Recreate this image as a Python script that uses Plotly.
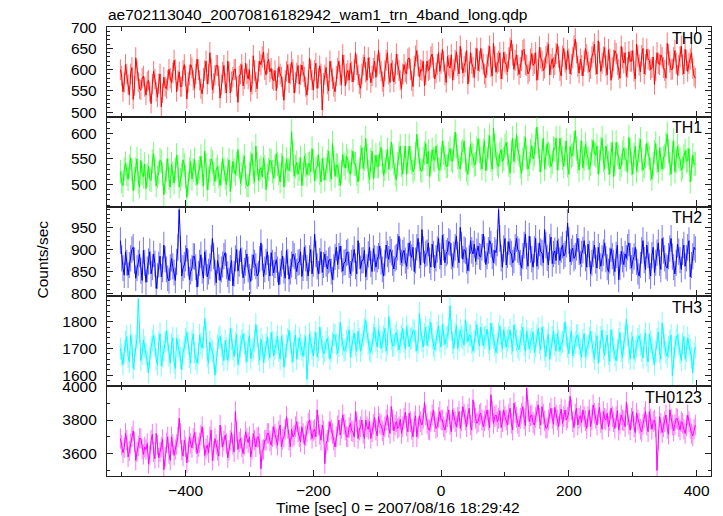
import numpy as np
import plotly.graph_objects as go
from plotly.subplots import make_subplots

# ---- data (2 s bins) ----
t_start = -502
t_step = 2
n_bins = 451
time = t_start + t_step * np.arange(n_bins)

th0 = [
600, 585, 548, 570, 612, 590, 565, 540, 590, 605, 530, 562, 628, 598, 571, 555, 552, 580, 585, 560,
540, 572, 575, 548, 520, 566, 596, 578, 548, 535, 567, 590, 512, 545, 582, 560, 555, 575, 601, 580,
570, 592, 622, 600, 548, 575, 595, 560, 560, 598, 612, 585, 531, 570, 588, 612, 604, 575, 556, 590,
625, 600, 575, 555, 543, 580, 598, 620, 566, 590, 640, 602, 552, 568, 587, 610, 610, 585, 533, 565,
594, 610, 568, 545, 620, 595, 545, 572, 582, 600, 601, 560, 523, 585, 590, 612, 562, 578, 615, 590,
578, 600, 548, 565, 633, 598, 571, 555, 596, 620, 612, 630, 642, 600, 588, 615, 625, 595, 603, 578,
574, 598, 551, 580, 607, 590, 583, 560, 528, 575, 596, 612, 569, 590, 618, 600, 545, 570, 592, 610,
566, 588, 611, 595, 583, 560, 540, 575, 627, 600, 575, 552, 598, 615, 556, 580, 609, 590, 505, 568,
588, 605, 566, 550, 620, 596, 579, 560, 548, 585, 603, 620, 587, 565, 635, 610, 562, 590, 598, 575,
615, 595, 571, 600, 640, 612, 588, 566, 556, 590, 611, 630, 594, 575, 628, 605, 569, 585, 603, 620,
582, 610, 646, 615, 597, 572, 560, 598, 622, 640, 589, 570, 615, 598, 571, 590, 637, 612, 598, 575,
555, 590, 612, 595, 590, 625, 628, 600, 574, 560, 608, 632, 645, 610, 583, 600, 598, 620, 562, 588,
620, 598, 601, 630, 637, 605, 578, 592, 612, 640, 596, 615, 648, 620, 588, 570, 631, 610, 604, 635,
575, 600, 622, 642, 610, 590, 655, 625, 592, 608, 618, 645, 566, 595, 640, 615, 605, 582, 627, 650,
598, 620, 650, 625, 613, 590, 581, 612, 632, 655, 607, 585, 662, 630, 594, 615, 620, 640, 578, 602,
641, 618, 612, 595, 628, 650, 670, 635, 601, 622, 635, 610, 589, 605, 622, 645, 648, 612, 610, 590,
596, 625, 638, 610, 615, 640, 575, 600, 653, 628, 620, 598, 604, 630, 640, 660, 588, 612, 626, 605,
612, 638, 660, 630, 598, 585, 632, 650, 618, 600, 645, 625, 590, 612, 628, 655, 672, 640, 608, 592,
625, 610, 585, 620, 650, 635, 617, 595, 603, 630, 641, 660, 612, 590, 668, 640, 596, 615, 630, 652,
609, 588, 647, 625, 575, 605, 622, 645, 638, 612, 600, 580, 655, 628, 616, 640, 584, 605, 642, 620,
620, 645, 596, 578, 660, 632, 611, 595, 633, 650, 590, 612, 648, 625, 622, 600, 605, 630, 565, 598,
640, 615, 612, 635, 628, 605, 598, 580, 662, 635, 618, 600, 601, 628, 645, 615, 587, 610, 630, 655,
612, 590, 648, 622, 596, 615, 625, 640, 603, 585, 580]

th1 = [
525, 505, 498, 530, 541, 520, 510, 535, 552, 528, 488, 512, 530, 550, 505, 495, 547, 522, 515, 540,
492, 518, 536, 510, 508, 545, 560, 530, 497, 515, 523, 548, 545, 520, 480, 505, 528, 550, 512, 495,
540, 522, 503, 530, 557, 535, 495, 510, 520, 548, 538, 515, 475, 502, 530, 545, 511, 528, 549, 520,
500, 525, 532, 555, 518, 498, 565, 538, 490, 512, 527, 550, 544, 520, 506, 530, 535, 515, 498, 522,
550, 530, 513, 500, 529, 548, 486, 515, 545, 528, 520, 540, 568, 535, 502, 520, 536, 555, 515, 498,
497, 522, 541, 560, 524, 505, 575, 540, 508, 528, 533, 515, 552, 535, 490, 518, 529, 548, 546, 525,
512, 535, 560, 540, 521, 505, 538, 555, 495, 520, 549, 530, 527, 548, 603, 560, 516, 535, 543, 520,
530, 552, 498, 520, 556, 538, 519, 540, 541, 525, 570, 545, 507, 530, 535, 558, 522, 505, 551, 530,
509, 530, 545, 565, 528, 510, 580, 550, 516, 538, 537, 520, 498, 525, 558, 540, 532, 555, 547, 525,
520, 545, 565, 540, 540, 520, 505, 530, 553, 572, 531, 550, 590, 555, 525, 510, 548, 565, 512, 535,
557, 535, 536, 560, 572, 545, 518, 530, 545, 568, 530, 550, 583, 555, 541, 520, 509, 540, 560, 575,
538, 520, 552, 575, 520, 545, 575, 552, 543, 525, 530, 560, 598, 565, 549, 528, 526, 550, 561, 580,
540, 565, 515, 540, 568, 550, 547, 575, 555, 530, 528, 550, 585, 562, 552, 535, 536, 560, 570, 548,
545, 570, 602, 575, 553, 535, 530, 562, 566, 585, 548, 528, 520, 550, 578, 560, 556, 538, 540, 570,
589, 565, 551, 530, 566, 585, 527, 550, 573, 595, 548, 530, 610, 575, 555, 540, 535, 560, 568, 545,
550, 575, 582, 560, 538, 522, 563, 590, 545, 565, 597, 570, 558, 535, 522, 550, 571, 592, 553, 530,
540, 565, 576, 550, 559, 585, 612, 575, 547, 525, 565, 590, 530, 552, 580, 560, 556, 535, 543, 570,
569, 590, 528, 550, 590, 568, 552, 535, 562, 585, 537, 520, 574, 555, 558, 580, 605, 570, 545, 528,
563, 585, 532, 550, 578, 560, 551, 530, 540, 565, 586, 560, 557, 575, 520, 545, 569, 590, 548, 530,
575, 555, 542, 520, 560, 582, 515, 540, 582, 560, 553, 530, 538, 562, 571, 550, 547, 525, 592, 565,
541, 520, 558, 575, 526, 545, 567, 588, 549, 528, 535, 555, 580, 560, 552, 530, 510, 540, 563, 580,
545, 525, 571, 550, 530, 552, 556, 578, 598, 565, 540, 520, 562, 585, 525, 545, 575, 555, 549, 528,
533, 555, 566, 545, 548, 570, 505, 530, 557, 540, 540]

th2 = [
920, 880, 858, 842, 895, 870, 842, 865, 880, 900, 905, 875, 835, 858, 870, 890, 852, 830, 898, 870,
826, 855, 873, 895, 845, 860, 890, 868, 812, 840, 866, 885, 838, 855, 910, 878, 855, 835, 829, 860,
880, 862, 848, 830, 872, 905, 990, 900, 840, 858, 865, 880, 903, 870, 832, 850, 858, 885, 884, 860,
815, 845, 870, 888, 852, 835, 895, 870, 838, 850, 862, 880, 925, 885, 848, 825, 875, 860, 830, 855,
866, 885, 893, 862, 844, 830, 858, 875, 818, 845, 880, 900, 851, 868, 902, 875, 836, 852, 870, 890,
855, 838, 828, 860, 888, 870, 862, 840, 845, 878, 915, 882, 839, 855, 872, 895, 858, 840, 893, 870,
847, 865, 877, 855, 820, 850, 868, 885, 852, 835, 898, 872, 833, 850, 866, 890, 885, 862, 850, 870,
872, 895, 839, 858, 905, 880, 858, 840, 880, 900, 845, 868, 935, 890, 862, 845, 874, 895, 848, 865,
890, 868, 856, 875, 878, 850, 832, 860, 883, 905, 866, 885, 908, 878, 851, 870, 872, 892, 895, 865,
845, 870, 880, 900, 862, 845, 920, 885, 857, 875, 876, 898, 838, 860, 889, 905, 867, 850, 902, 880,
860, 878, 885, 908, 873, 855, 840, 870, 910, 890, 878, 900, 894, 870, 856, 880, 883, 905, 930, 895,
870, 892, 898, 875, 862, 885, 915, 890, 882, 905, 850, 875, 905, 925, 887, 865, 945, 900, 868, 890,
893, 915, 875, 860, 912, 890, 858, 880, 900, 925, 885, 865, 932, 905, 870, 892, 896, 918, 915, 885,
862, 888, 905, 930, 888, 870, 950, 910, 878, 900, 897, 875, 852, 880, 920, 898, 890, 912, 873, 895,
908, 885, 883, 905, 935, 900, 866, 885, 898, 920, 912, 885, 870, 898, 893, 915, 990, 925, 880, 860,
902, 925, 865, 888, 918, 895, 890, 870, 876, 905, 925, 900, 895, 870, 858, 885, 910, 935, 885, 862,
930, 900, 878, 860, 900, 925, 862, 885, 915, 895, 892, 870, 945, 910, 881, 865, 905, 928, 868, 890,
897, 875, 920, 895, 875, 900, 910, 885, 890, 912, 960, 920, 872, 895, 903, 880, 885, 905, 925, 895,
868, 890, 899, 920, 880, 860, 912, 890, 845, 870, 890, 910, 875, 858, 905, 885, 862, 880, 893, 915,
878, 860, 850, 875, 902, 885, 870, 850, 888, 910, 832, 860, 896, 878, 866, 890, 880, 905, 915, 885,
858, 875, 884, 905, 872, 850, 840, 865, 898, 920, 876, 855, 910, 888, 862, 840, 887, 905, 848, 870,
893, 915, 870, 855, 925, 898, 880, 862, 858, 885, 902, 925, 884, 860, 845, 870, 912, 895, 876, 855,
895, 910, 862, 880, 905, 920, 838, 865, 885, 905, 900]

th3 = [
1700, 1675, 1640, 1690, 1725, 1745, 1668, 1650, 1750, 1715, 1625, 1660, 1710, 1740, 1885, 1760, 1655, 1680, 1732, 1705,
1680, 1650, 1610, 1665, 1705, 1730, 1748, 1712, 1660, 1640, 1722, 1755, 1635, 1670, 1690, 1725, 1765, 1730, 1672, 1645,
1715, 1740, 1648, 1625, 1738, 1710, 1695, 1665, 1620, 1685, 1705, 1735, 1760, 1720, 1668, 1645, 1728, 1755, 1685, 1660,
1645, 1680, 1750, 1718, 1702, 1740, 1812, 1760, 1670, 1645, 1725, 1700, 1690, 1665, 1600, 1650, 1712, 1738, 1745, 1710,
1678, 1655, 1730, 1700, 1656, 1690, 1775, 1735, 1698, 1670, 1720, 1752, 1640, 1675, 1708, 1730, 1755, 1718, 1685, 1650,
1725, 1748, 1662, 1690, 1700, 1728, 1790, 1745, 1680, 1655, 1735, 1712, 1648, 1685, 1715, 1742, 1695, 1665, 1760, 1725,
1672, 1700, 1720, 1745, 1690, 1660, 1745, 1712, 1630, 1675, 1708, 1735, 1768, 1722, 1685, 1650, 1728, 1750, 1660, 1700,
1740, 1715, 1695, 1670, 1712, 1745, 1585, 1680, 1755, 1725, 1700, 1672, 1726, 1760, 1668, 1695, 1780, 1738, 1705, 1680,
1690, 1725, 1738, 1705, 1660, 1690, 1722, 1752, 1750, 1715, 1682, 1710, 1798, 1745, 1715, 1690, 1695, 1728, 1742, 1770,
1668, 1705, 1730, 1758, 1712, 1690, 1765, 1735, 1690, 1715, 1748, 1772, 1805, 1760, 1720, 1695, 1685, 1718, 1752, 1780,
1728, 1705, 1770, 1745, 1700, 1725, 1745, 1775, 1690, 1718, 1820, 1765, 1735, 1710, 1712, 1748, 1760, 1730, 1695, 1722,
1748, 1775, 1725, 1700, 1782, 1750, 1706, 1735, 1740, 1768, 1765, 1730, 1690, 1722, 1832, 1770, 1728, 1705, 1752, 1780,
1712, 1745, 1770, 1798, 1738, 1710, 1695, 1728, 1760, 1785, 1730, 1705, 1790, 1752, 1715, 1740, 1745, 1775, 1860, 1770,
1722, 1700, 1755, 1785, 1700, 1730, 1768, 1745, 1738, 1712, 1808, 1760, 1725, 1750, 1748, 1720, 1690, 1725, 1762, 1790,
1735, 1710, 1780, 1752, 1710, 1740, 1745, 1772, 1722, 1695, 1795, 1755, 1740, 1712, 1685, 1720, 1755, 1785, 1728, 1700,
1770, 1740, 1705, 1730, 1742, 1770, 1718, 1690, 1788, 1752, 1730, 1705, 1695, 1728, 1752, 1780, 1712, 1690, 1765, 1735,
1700, 1725, 1735, 1762, 1685, 1710, 1748, 1775, 1720, 1695, 1780, 1742, 1695, 1670, 1730, 1755, 1660, 1700, 1742, 1765,
1715, 1690, 1758, 1730, 1690, 1715, 1725, 1752, 1800, 1745, 1705, 1680, 1738, 1765, 1672, 1705, 1722, 1748, 1750, 1718,
1695, 1668, 1732, 1755, 1668, 1700, 1710, 1740, 1765, 1725, 1688, 1660, 1720, 1748, 1645, 1690, 1742, 1770, 1700, 1672,
1725, 1750, 1680, 1652, 1770, 1730, 1702, 1675, 1655, 1695, 1735, 1760, 1690, 1665, 1718, 1745, 1810, 1750, 1685, 1660,
1722, 1745, 1660, 1690, 1708, 1735, 1748, 1715, 1692, 1665, 1730, 1758, 1675, 1650, 1755, 1725, 1702, 1678, 1640, 1690,
1735, 1762, 1688, 1660, 1795, 1740, 1712, 1685, 1670, 1705, 1728, 1750, 1598, 1665, 1705, 1738, 1750, 1715, 1682, 1655,
1718, 1745, 1660, 1690, 1740, 1712, 1695, 1665, 1610, 1680, 1705]

th0123 = [
3690, 3650, 3605, 3635, 3720, 3680, 3580, 3615, 3660, 3700, 3735, 3670, 3560, 3610, 3645, 3690, 3690, 3625, 3595, 3640,
3625, 3660, 3540, 3590, 3680, 3715, 3610, 3570, 3720, 3650, 3575, 3610, 3640, 3685, 3505, 3580, 3665, 3700, 3600, 3560,
3700, 3655, 3590, 3625, 3655, 3700, 3810, 3720, 3620, 3585, 3680, 3640, 3545, 3610, 3700, 3660, 3635, 3690, 3725, 3670,
3600, 3640, 3665, 3710, 3760, 3690, 3590, 3630, 3650, 3605, 3700, 3740, 3560, 3615, 3690, 3655, 3620, 3585, 3770, 3700,
3640, 3675, 3710, 3660, 3575, 3620, 3680, 3725, 3655, 3610, 3850, 3730, 3625, 3670, 3690, 3640, 3600, 3650, 3730, 3690,
3665, 3700, 3580, 3625, 3720, 3680, 3640, 3695, 3700, 3660, 3510, 3620, 3625, 3680, 3680, 3720, 3720, 3675, 3650, 3700,
3760, 3715, 3690, 3650, 3735, 3770, 3640, 3685, 3700, 3745, 3820, 3750, 3680, 3640, 3745, 3700, 3710, 3760, 3790, 3730,
3700, 3670, 3760, 3720, 3655, 3705, 3730, 3780, 3800, 3740, 3690, 3735, 3745, 3700, 3860, 3770, 3715, 3680, 3770, 3735,
3540, 3660, 3680, 3730, 3790, 3745, 3720, 3680, 3640, 3700, 3765, 3800, 3710, 3750, 3830, 3775, 3740, 3700, 3700, 3755,
3780, 3735, 3730, 3700, 3850, 3790, 3690, 3740, 3760, 3800, 3720, 3690, 3800, 3760, 3745, 3790, 3690, 3730, 3775, 3815,
3740, 3705, 3820, 3780, 3770, 3735, 3710, 3760, 3800, 3830, 3755, 3720, 3880, 3800, 3735, 3770, 3790, 3750, 3760, 3805,
3720, 3760, 3810, 3845, 3765, 3730, 3840, 3790, 3745, 3700, 3790, 3825, 3700, 3750, 3825, 3790, 3770, 3810, 3905, 3830,
3780, 3745, 3740, 3790, 3830, 3860, 3790, 3750, 3760, 3815, 3850, 3800, 3800, 3760, 3740, 3785, 3820, 3860, 3775, 3730,
3860, 3810, 3790, 3760, 3815, 3850, 3750, 3795, 3880, 3835, 3800, 3760, 3835, 3870, 3770, 3740, 3920, 3845, 3810, 3780,
3790, 3830, 3840, 3800, 3760, 3795, 3825, 3860, 3800, 3755, 3950, 3850, 3780, 3820, 3830, 3790, 3810, 3855, 3755, 3790,
3860, 3820, 3800, 3770, 3835, 3870, 3780, 3740, 3900, 3845, 3815, 3780, 3760, 3810, 3840, 3880, 3805, 3765, 3990, 3860,
3790, 3825, 3830, 3785, 3770, 3815, 3850, 3890, 3810, 3770, 3880, 3835, 3795, 3750, 3755, 3800, 3840, 3870, 3810, 3775,
3875, 3830, 3800, 3760, 3830, 3865, 3780, 3820, 3860, 3800, 3815, 3850, 3940, 3860, 3790, 3755, 3835, 3870, 3770, 3810,
3825, 3785, 3860, 3820, 3795, 3750, 3820, 3860, 3760, 3800, 3890, 3840, 3810, 3770, 3840, 3875, 3785, 3745, 3850, 3810,
3800, 3840, 3760, 3795, 3870, 3820, 3790, 3750, 3820, 3855, 3740, 3780, 3830, 3800, 3795, 3760, 3905, 3830, 3775, 3740,
3810, 3850, 3760, 3725, 3840, 3800, 3780, 3745, 3730, 3775, 3815, 3850, 3770, 3730, 3850, 3805, 3745, 3790, 3800, 3760,
3500, 3680, 3820, 3780, 3725, 3760, 3790, 3830, 3750, 3715, 3860, 3805, 3770, 3735, 3770, 3810, 3805, 3760, 3740, 3790,
3780, 3745, 3720, 3765, 3830, 3790, 3750, 3720, 3705, 3745, 3770]

band_names = ["TH0", "TH1", "TH2", "TH3", "TH0123"]
series = [th0, th1, th2, th3, th0123]
colors = ["#ff0000", "#00ff00", "#0000ff", "#00ffff", "#ff00ff"]
err_colors = ["rgba(255,0,0,0.55)", "rgba(0,255,0,0.55)", "rgba(0,0,255,0.55)",
              "rgba(0,255,255,0.55)", "rgba(255,0,255,0.55)"]
y_ranges = [[489, 700.6], [457, 632], [794, 997], [1559, 1895], [3467, 4001]]
y_dtick = [50, 50, 50, 100, 200]
y_minor = [10, 10, 10, 20, 100]

FONT = "Liberation Sans, Arial, Helvetica, sans-serif"

fig = make_subplots(rows=5, cols=1, shared_xaxes=True, vertical_spacing=0)

for i, (name, vals) in enumerate(zip(band_names, series)):
    v = np.array(vals, dtype=float)
    fig.add_trace(go.Scatter(
        x=time, y=v, mode="lines", name=name,
        line=dict(color=colors[i], width=1),
        error_y=dict(type="data", array=np.sqrt(v), visible=True,
                     color=err_colors[i], thickness=1, width=0),
        showlegend=False, hoverinfo="skip"), row=i + 1, col=1)

axis_common = dict(showline=True, linecolor="#222222", linewidth=1.3, mirror="allticks",
                   ticks="inside", tickcolor="#222222", tickwidth=1, showgrid=False,
                   zeroline=False, tickfont=dict(family=FONT, size=15.5, color="black"))

for i in range(5):
    fig.update_yaxes(range=y_ranges[i], dtick=y_dtick[i], tick0=0, ticklen=6,
                     minor=dict(dtick=y_minor[i], tick0=0, ticklen=3, ticks="inside",
                                tickcolor="#222222", showgrid=False),
                     ticklabelstandoff=6, **axis_common, row=i + 1, col=1)
    fig.update_xaxes(range=[-523, 422.5], dtick=200, tick0=0, ticklen=6,
                     minor=dict(dtick=100, tick0=0, ticklen=4, ticks="inside",
                                tickcolor="#222222", showgrid=False),
                     ticklabelstandoff=0, **axis_common, row=i + 1, col=1)

annotations = []
plot_h = 449.0
for i, name in enumerate(band_names):
    top = 1.0 - 0.2 * i
    annotations.append(dict(text=name, x=1, xref="paper", xanchor="right", xshift=-7,
                            y=top - 11.0 / plot_h, yref="paper", yanchor="middle",
                            showarrow=False, font=dict(family=FONT, size=16, color="black")))
annotations.append(dict(text="ae702113040_20070816182942_wam1_trn_4band_long.qdp",
                        x=0, xref="paper", xanchor="left", xshift=-1,
                        y=1 + 12.5 / plot_h, yref="paper", yanchor="middle",
                        showarrow=False, font=dict(family=FONT, size=15.5, color="black")))
annotations.append(dict(text="Counts/sec", textangle=-90,
                        x=(41.5 - 107) / 604.0, xref="paper", xanchor="center",
                        y=(476 - 260) / plot_h, yref="paper", yanchor="middle",
                        showarrow=False, font=dict(family=FONT, size=15.5, color="black")))
annotations.append(dict(text="Time [sec] 0 = 2007/08/16 18:29:42",
                        x=(398 - 107) / 604.0, xref="paper", xanchor="center",
                        y=(476 - 507.5) / plot_h, yref="paper", yanchor="middle",
                        showarrow=False, font=dict(family=FONT, size=15.5, color="black")))

fig.update_layout(width=723, height=516, margin=dict(l=107, r=12, t=27, b=40),
                  paper_bgcolor="white", plot_bgcolor="white",
                  font=dict(family=FONT, size=15.5, color="black"),
                  annotations=annotations)

fig.write_html("out.html", config={"displayModeBar": False},
               post_script="document.body.style.margin='0';document.body.style.padding='0';")
